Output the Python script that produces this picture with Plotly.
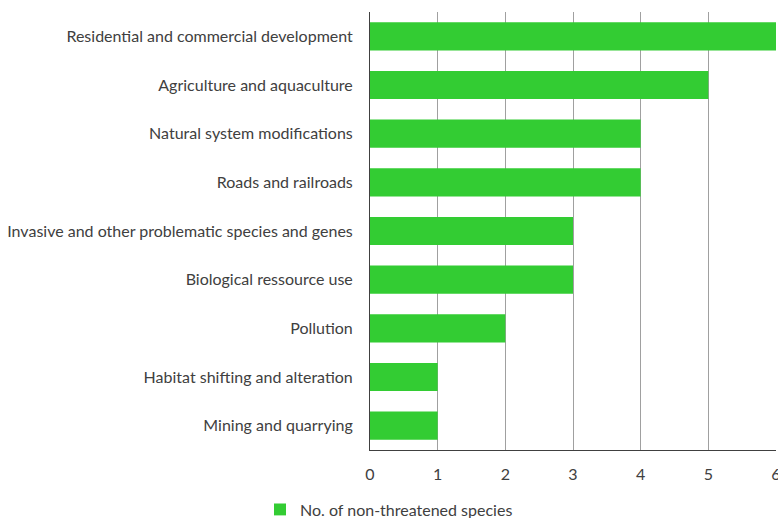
import plotly.graph_objects as go

threats = [
    "Residential and commercial development",
    "Agriculture and aquaculture",
    "Natural system modifications",
    "Roads and railroads",
    "Invasive and other problematic species and genes",
    "Biological ressource use",
    "Pollution",
    "Habitat shifting and alteration",
    "Mining and quarrying",
]
species_counts = [6, 5, 4, 4, 3, 3, 2, 1, 1]
series_name = "No. of non-threatened species"
x_ticks = [0, 1, 2, 3, 4, 5, 6]

font_family = "Lato, Open Sans, sans-serif"
text_color = "#404040"

fig = go.Figure(
    go.Bar(
        x=species_counts,
        y=threats,
        orientation="h",
        name=series_name,
        marker=dict(color="#33CC33", line=dict(width=0)),
        showlegend=True,
    )
)

fig.update_layout(
    width=778,
    height=518,
    margin=dict(l=370, r=2, t=12, b=68, autoexpand=False),
    plot_bgcolor="white",
    paper_bgcolor="white",
    bargap=0.42,
    font=dict(family=font_family, size=16, color=text_color),
    legend=dict(
        orientation="h",
        x=0.5,
        xanchor="center",
        xref="container",
        y=-0.097,
        yanchor="top",
        yref="paper",
        font=dict(size=16, color=text_color),
        itemwidth=30,
    ),
)

fig.update_xaxes(
    range=[0, 6],
    tickvals=x_ticks,
    showgrid=True,
    gridcolor="#A0A0A0",
    gridwidth=1,
    showline=True,
    linecolor=text_color,
    linewidth=1,
    zeroline=False,
    ticks="",
    ticklabelstandoff=10,
    ticklabeloverflow="allow",
    tickfont=dict(size=16, color=text_color),
)

fig.update_yaxes(
    categoryorder="array",
    categoryarray=threats[::-1],
    showline=True,
    linecolor=text_color,
    linewidth=1,
    showgrid=False,
    ticks="",
    ticklabelstandoff=13,
    tickfont=dict(size=16, color=text_color),
)

fig.write_html("out.html")
